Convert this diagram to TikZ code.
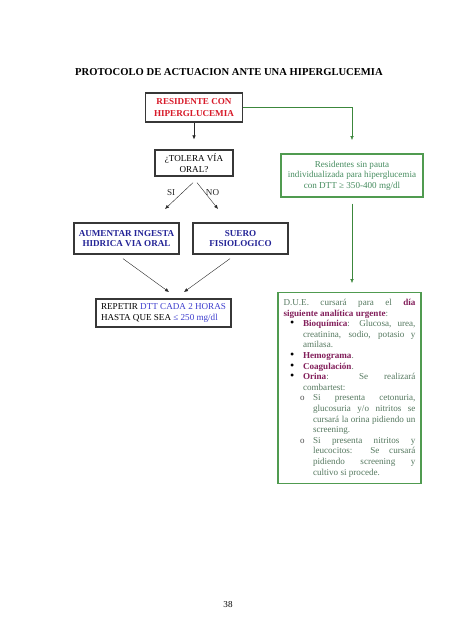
\documentclass[tikz,border=0pt]{standalone}
\usepackage{fontspec}
\setmainfont{Liberation Serif}
\usepackage{xcolor}
\usepackage{tikz}
\usetikzlibrary{calc,arrows.meta}

\definecolor{resred}{RGB}{215,25,40}
\definecolor{boldblue}{RGB}{35,35,150}
\definecolor{dttblue}{RGB}{60,60,205}
\definecolor{pautagreen}{RGB}{70,140,95}
\definecolor{boxgreen}{RGB}{80,155,80}
\definecolor{linegreen}{RGB}{60,135,60}
\definecolor{duetext}{RGB}{85,120,95}
\definecolor{plum}{RGB}{130,30,90}
\definecolor{boxgray}{RGB}{55,55,55}

\newcommand{\bitem}{\par\hangindent=19.5pt\hangafter=1\noindent\hspace*{6.5pt}\makebox[13pt][l]{\textcolor{black}{\large\textbullet}}}
\newcommand{\sitem}{\par\hangindent=29.5pt\hangafter=1\noindent\hspace*{16.5pt}\makebox[13pt][l]{\textcolor{black!70}{\small o}}}
\newcommand{\hl}[1]{\textcolor{plum}{\textbf{#1}}}

\begin{document}
\begin{tikzpicture}[x=1pt,y=-1pt,
    every node/.style={font=\fontsize{9.1}{10.6}\selectfont},
    arr/.style={-{Latex[length=4pt,width=3.5pt]},black!85},
    garr/.style={-{Latex[length=4pt,width=3.5pt]},linegreen},
    stepbox/.style={draw=boxgray,line width=1.3pt,align=center,inner sep=2pt},
    greenbox/.style={draw=boxgreen,line width=1.3pt,inner sep=0pt}]
	\useasboundingbox (0,0) rectangle (452,640);

	\node (titulo) at (229,72) {\fontsize{10.6}{12}\selectfont\textbf{PROTOCOLO DE ACTUACION ANTE UNA HIPERGLUCEMIA}};

	\node[stepbox,line width=1.8pt,minimum width=97,minimum height=29,text=resred,font=\fontsize{9.1}{11.5}\selectfont\bfseries] (res) at (194,107.5) {RESIDENTE CON\\HIPERGLUCEMIA};
	\node[stepbox,minimum width=78,minimum height=26] (tol) at (194,163) {¿TOLERA VÍA\\ORAL?};
	\node[stepbox,minimum width=105,minimum height=31,text=boldblue,font=\fontsize{9.1}{10.6}\selectfont\bfseries] (ingesta) at (126.5,238.5) {AUMENTAR INGESTA\\HIDRICA VIA ORAL};
	\node[stepbox,minimum width=95,minimum height=31,text=boldblue,font=\fontsize{9.1}{10.6}\selectfont\bfseries] (suero) at (240.5,238.5) {SUERO\\FISIOLOGICO};
	\node[stepbox,minimum width=134,minimum height=28,align=left,inner xsep=5pt] (repetir) at (163.5,313) {REPETIR \textcolor{dttblue}{DTT CADA 2 HORAS}\\HASTA QUE SEA \textcolor{dttblue}{≤ 250 mg/dl}};

	\node[greenbox,minimum width=142,minimum height=43,align=center,text=pautagreen] (pauta) at (352,175.5) {Residentes sin pauta\\individualizada para hiperglucemia\\con DTT ≥ 350-400 mg/dl};

	\node[greenbox,anchor=north,minimum width=143,minimum height=191,text width=132,inner xsep=5.5pt,inner ysep=4pt,align=justify,text=duetext] (due) at (349.5,292) {%
	\tolerance=9999\hyphenpenalty=10000
	D.U.E. cursará para el \hl{día}\linebreak
	\hl{siguiente analítica urgente}:
	\bitem \hl{Bioquímica}: Glucosa, urea,\linebreak creatinina, sodio, potasio y\linebreak amilasa.
	\bitem \hl{Hemograma}.
	\bitem \hl{Coagulación}.
	\bitem \hl{Orina}: Se realizará\linebreak combartest:
	\sitem Si presenta cetonuria,\linebreak glucosuria y/o nitritos se\linebreak cursará la orina pidiendo un\linebreak screening.
	\sitem Si presenta nitritos y\linebreak leucocitos: Se cursará\linebreak pidiendo screening y\linebreak cultivo si procede.\par};

	\node (pagina) at (228,605) {38};

	\coordinate (sifin) at (165,209);
	\coordinate (nofin) at (218,209);
	\coordinate (rep1) at (169,292);
	\coordinate (rep2) at (184,292);
	\coordinate (gcodo) at (352,140);

	\draw[arr,shorten >=10pt] (res) -- (tol);
	\draw[arr] ([xshift=-1pt,yshift=-6pt]tol.south) -- node[pos=.37,left=4pt] {SI} (sifin);
	\draw[arr] ([xshift=3pt,yshift=-6pt]tol.south) -- node[pos=.37,right=0pt,inner sep=1pt] {NO} (nofin);
	\draw[arr] ([xshift=-3.5pt,yshift=-4pt]ingesta.south) -- (rep1);
	\draw[arr] ([xshift=-10.5pt,yshift=-4pt]suero.south) -- (rep2);

	\draw[garr] (res.east) -| (gcodo);
	\draw[garr,shorten <=6pt,shorten >=9pt] (pauta.south) -- (pauta.south |- due.north);
\end{tikzpicture}
\end{document}
